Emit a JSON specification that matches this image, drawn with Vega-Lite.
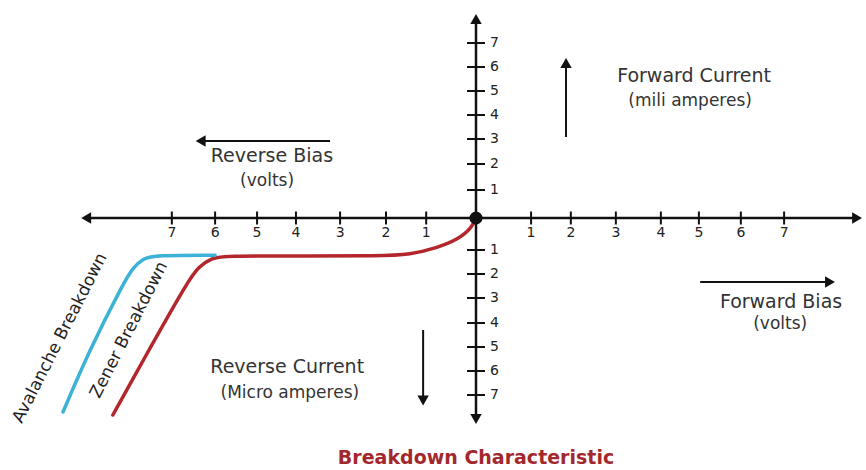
{
  "$schema": "https://vega.github.io/schema/vega-lite/v6.json",
  "width": 866,
  "height": 470,
  "autosize": {"type": "fit", "contains": "padding"},
  "padding": 0,
  "background": "white",
  "config": {"view": {"stroke": null}},
  "datasets": {
    "axes": [
      {"x": -8.92, "y": 0, "x2": 8.72, "y2": 0},
      {"x": 0, "y": -8.04, "x2": 0, "y2": 7.96}
    ],
    "axisHeads": [
      {"x": -8.92, "y": 0, "dir": "triangle-left"},
      {"x": 8.72, "y": 0, "dir": "triangle-right"},
      {"x": 0, "y": 7.96, "dir": "triangle-up"},
      {"x": 0, "y": -8.04, "dir": "triangle-down"}
    ],
    "arrows": [
      {"x": -6.3, "y": 3.08, "x2": -3.34, "y2": 3.08},
      {"x": 2.06, "y": 3.24, "x2": 2.06, "y2": 6.2},
      {"x": 5.13, "y": -2.56, "x2": 8.1, "y2": -2.56},
      {"x": -1.21, "y": -4.48, "x2": -1.21, "y2": -7.3}
    ],
    "arrowHeads": [
      {"x": -6.3, "y": 3.08, "dir": "triangle-left"},
      {"x": 2.06, "y": 6.2, "dir": "triangle-up"},
      {"x": 8.1, "y": -2.56, "dir": "triangle-right"},
      {"x": -1.21, "y": -7.3, "dir": "triangle-down"}
    ],
    "xticks": [
      {"x": -1.14, "label": "1"}, {"x": -2.06, "label": "2"}, {"x": -3.11, "label": "3"},
      {"x": -4.12, "label": "4"}, {"x": -5.01, "label": "5"}, {"x": -5.97, "label": "6"},
      {"x": -6.96, "label": "7"},
      {"x": 1.26, "label": "1"}, {"x": 2.17, "label": "2"}, {"x": 3.2, "label": "3"},
      {"x": 4.23, "label": "4"}, {"x": 5.1, "label": "5"}, {"x": 6.06, "label": "6"},
      {"x": 7.05, "label": "7"}
    ],
    "yticks": [
      {"y": 1.12, "label": "1"}, {"y": 2.16, "label": "2"}, {"y": 3.16, "label": "3"},
      {"y": 4.12, "label": "4"}, {"y": 5.08, "label": "5"}, {"y": 6.04, "label": "6"},
      {"y": 7.0, "label": "7"},
      {"y": -1.28, "label": "1"}, {"y": -2.24, "label": "2"}, {"y": -3.2, "label": "3"},
      {"y": -4.2, "label": "4"}, {"y": -5.16, "label": "5"}, {"y": -6.12, "label": "6"},
      {"y": -7.08, "label": "7"}
    ],
    "curves": [
      {"series": "Zener", "x": 0, "y": 0},
      {"series": "Zener", "x": -0.1, "y": -0.4},
      {"series": "Zener", "x": -0.4, "y": -0.85},
      {"series": "Zener", "x": -0.9, "y": -1.2},
      {"series": "Zener", "x": -1.5, "y": -1.46},
      {"series": "Zener", "x": -2.2, "y": -1.52},
      {"series": "Zener", "x": -4.0, "y": -1.52},
      {"series": "Zener", "x": -5.75, "y": -1.52},
      {"series": "Zener", "x": -6.05, "y": -1.6},
      {"series": "Zener", "x": -6.35, "y": -1.95},
      {"series": "Zener", "x": -6.6, "y": -2.55},
      {"series": "Zener", "x": -7.46, "y": -5.2},
      {"series": "Zener", "x": -8.31, "y": -7.88},
      {"series": "Avalanche", "x": -5.97, "y": -1.49},
      {"series": "Avalanche", "x": -7.35, "y": -1.49},
      {"series": "Avalanche", "x": -7.62, "y": -1.62},
      {"series": "Avalanche", "x": -7.85, "y": -2.0},
      {"series": "Avalanche", "x": -8.05, "y": -2.55},
      {"series": "Avalanche", "x": -8.85, "y": -5.3},
      {"series": "Avalanche", "x": -9.45, "y": -7.76}
    ],
    "origin": [{"x": 0, "y": 0}],
    "mainText": [
      {"x": -4.67, "y": 2.48, "text": "Reverse Bias"},
      {"x": 4.99, "y": 5.68, "text": "Forward Current"},
      {"x": 6.98, "y": -3.36, "text": "Forward Bias"},
      {"x": -4.32, "y": -5.96, "text": "Reverse Current"}
    ],
    "subText": [
      {"x": -4.78, "y": 1.48, "text": "(volts)"},
      {"x": 4.9, "y": 4.68, "text": "(mili amperes)"},
      {"x": 6.96, "y": -4.24, "text": "(volts)"},
      {"x": -4.26, "y": -7.0, "text": "(Micro amperes)"}
    ],
    "curveLabels": [
      {"x": -9.52, "y": -4.8, "text": "Avalanche Breakdown"},
      {"x": -7.94, "y": -4.48, "text": "Zener Breakdown"}
    ],
    "title": [{"x": 0, "y": -9.6, "text": "Breakdown Characteristic"}]
  },
  "layer": [
    {
      "data": {"name": "curves"},
      "mark": {"type": "line", "interpolate": "basis", "strokeWidth": 3.5, "strokeCap": "round"},
      "encoding": {
        "x": {"field": "x", "type": "quantitative", "scale": {"domain": [-10.892, 8.924], "nice": false, "zero": false}, "axis": null},
        "y": {"field": "y", "type": "quantitative", "scale": {"domain": [-10.08, 8.72], "nice": false, "zero": false}, "axis": null},
        "color": {"field": "series", "type": "nominal", "scale": {"domain": ["Zener", "Avalanche"], "range": ["#b3262c", "#3cb2d6"]}, "legend": null}
      }
    },
    {
      "data": {"name": "axes"},
      "mark": {"type": "rule", "strokeWidth": 2.5, "color": "#111111"},
      "encoding": {
        "x": {"field": "x", "type": "quantitative"},
        "y": {"field": "y", "type": "quantitative"},
        "x2": {"field": "x2"},
        "y2": {"field": "y2"}
      }
    },
    {
      "data": {"name": "axisHeads"},
      "mark": {"type": "point", "filled": true, "size": 130, "color": "#111111", "opacity": 1},
      "encoding": {
        "x": {"field": "x", "type": "quantitative"},
        "y": {"field": "y", "type": "quantitative"},
        "shape": {"field": "dir", "type": "nominal", "scale": null}
      }
    },
    {
      "data": {"name": "arrows"},
      "mark": {"type": "rule", "strokeWidth": 2, "color": "#111111"},
      "encoding": {
        "x": {"field": "x", "type": "quantitative"},
        "y": {"field": "y", "type": "quantitative"},
        "x2": {"field": "x2"},
        "y2": {"field": "y2"}
      }
    },
    {
      "data": {"name": "arrowHeads"},
      "mark": {"type": "point", "filled": true, "size": 130, "color": "#111111", "opacity": 1},
      "encoding": {
        "x": {"field": "x", "type": "quantitative"},
        "y": {"field": "y", "type": "quantitative"},
        "shape": {"field": "dir", "type": "nominal", "scale": null}
      }
    },
    {
      "data": {"name": "xticks"},
      "mark": {"type": "tick", "orient": "vertical", "size": 13, "thickness": 2, "color": "#111111", "opacity": 1},
      "encoding": {
        "x": {"field": "x", "type": "quantitative"},
        "y": {"datum": 0, "type": "quantitative"}
      }
    },
    {
      "data": {"name": "xticks"},
      "mark": {"type": "text", "dy": 15, "fontSize": 14, "font": "DejaVu Sans", "color": "#222222", "baseline": "middle", "align": "center"},
      "encoding": {
        "x": {"field": "x", "type": "quantitative"},
        "y": {"datum": 0, "type": "quantitative"},
        "text": {"field": "label"}
      }
    },
    {
      "data": {"name": "yticks"},
      "mark": {"type": "tick", "orient": "horizontal", "size": 18, "thickness": 2, "color": "#111111", "opacity": 1},
      "encoding": {
        "x": {"datum": 0, "type": "quantitative"},
        "y": {"field": "y", "type": "quantitative"}
      }
    },
    {
      "data": {"name": "yticks"},
      "mark": {"type": "text", "dx": 14, "fontSize": 14, "font": "DejaVu Sans", "color": "#222222", "baseline": "middle", "align": "left"},
      "encoding": {
        "x": {"datum": 0, "type": "quantitative"},
        "y": {"field": "y", "type": "quantitative"},
        "text": {"field": "label"}
      }
    },
    {
      "data": {"name": "origin"},
      "mark": {"type": "circle", "size": 170, "color": "#111111", "opacity": 1},
      "encoding": {
        "x": {"field": "x", "type": "quantitative"},
        "y": {"field": "y", "type": "quantitative"}
      }
    },
    {
      "data": {"name": "mainText"},
      "mark": {"type": "text", "fontSize": 19, "font": "DejaVu Sans", "color": "#333333", "baseline": "middle", "align": "center"},
      "encoding": {
        "x": {"field": "x", "type": "quantitative"},
        "y": {"field": "y", "type": "quantitative"},
        "text": {"field": "text"}
      }
    },
    {
      "data": {"name": "subText"},
      "mark": {"type": "text", "fontSize": 17, "font": "DejaVu Sans", "color": "#333333", "baseline": "middle", "align": "center"},
      "encoding": {
        "x": {"field": "x", "type": "quantitative"},
        "y": {"field": "y", "type": "quantitative"},
        "text": {"field": "text"}
      }
    },
    {
      "data": {"name": "curveLabels"},
      "mark": {"type": "text", "fontSize": 17, "font": "DejaVu Sans", "color": "#222222", "baseline": "middle", "align": "center", "angle": -63},
      "encoding": {
        "x": {"field": "x", "type": "quantitative"},
        "y": {"field": "y", "type": "quantitative"},
        "text": {"field": "text"}
      }
    },
    {
      "data": {"name": "title"},
      "mark": {"type": "text", "fontSize": 19, "font": "DejaVu Sans", "fontWeight": "bold", "color": "#a3282d", "baseline": "middle", "align": "center"},
      "encoding": {
        "x": {"field": "x", "type": "quantitative"},
        "y": {"field": "y", "type": "quantitative"},
        "text": {"field": "text"}
      }
    }
  ]
}
